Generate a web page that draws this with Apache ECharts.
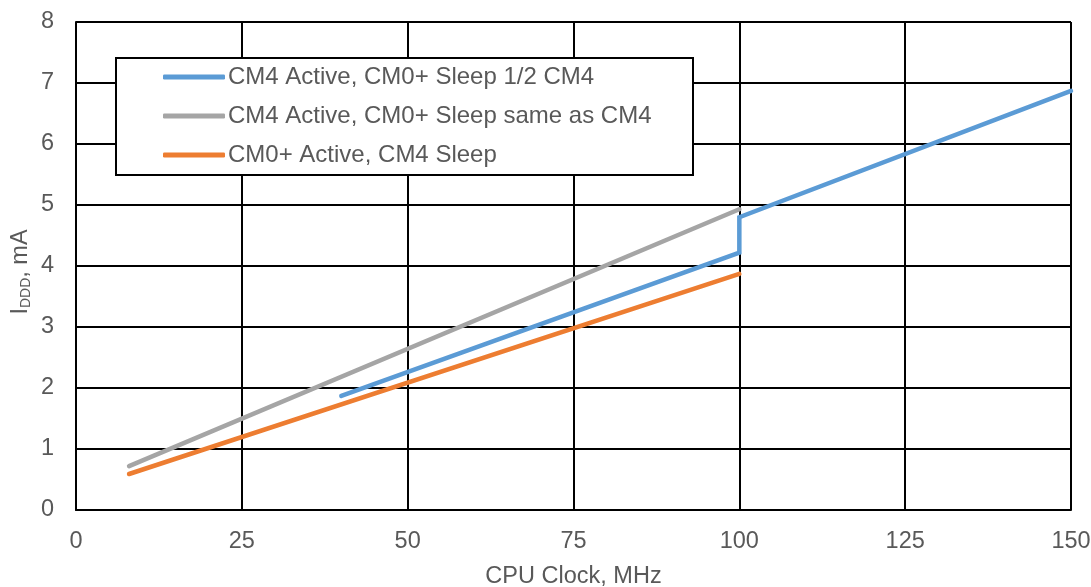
<!DOCTYPE html>
<html>
<head>
<meta charset="utf-8">
<script src="https://cdn.jsdelivr.net/npm/echarts@6/dist/echarts.min.js"></script>
<style>html,body{margin:0;padding:0;background:#fff}#c{width:1091px;height:587px}</style>
</head>
<body>
<div id="c"></div>
<script>
const xTicks = [0, 25, 50, 75, 100, 125, 150];
const yTicks = [0, 1, 2, 3, 4, 5, 6, 7, 8];
const seriesNames = ['CM4 Active, CM0+ Sleep 1/2 CM4', 'CM4 Active, CM0+ Sleep same as CM4', 'CM0+ Active, CM4 Sleep'];
const blueX = [40, 100, 100, 150];
const blueY = [1.87, 4.22, 4.80, 6.87];
const grayX = [8, 100];
const grayY = [0.72, 4.93];
const orangeX = [8, 100];
const orangeY = [0.59, 3.87];
const colors = ['#5B9BD5', '#A5A5A5', '#ED7D31'];

const pairs = (xs, ys) => xs.map((x, i) => [x, ys[i]]);
const font = 'Liberation Sans, Arial, sans-serif';
const fs = 23.5;
const chart = echarts.init(document.getElementById('c'));
const mk = (name, data, color) => ({
  name, type: 'line', data, symbol: 'none', color,
  lineStyle: { width: 4.5, color, cap: 'round', join: 'miter' },
  itemStyle: { color }, z: 5
});
chart.setOption({
  animation: false,
  grid: { left: 76, right: 20, top: 22, bottom: 77, containLabel: false, outerBoundsMode: 'none' },
  xAxis: {
    type: 'value', min: 0, max: 150, interval: 25,
    name: 'CPU Clock, MHz', nameLocation: 'middle', nameGap: 55,
    nameTextStyle: { color: '#595959', fontSize: fs, fontFamily: font },
    axisLine: { lineStyle: { color: '#000', width: 2 } },
    axisTick: { show: false },
    axisLabel: { color: '#595959', fontSize: fs, fontFamily: font, margin: 20 },
    splitLine: { show: true, lineStyle: { color: '#000', width: 2 } }
  },
  yAxis: {
    type: 'value', min: 0, max: 8, interval: 1,
    name: '{m|I}{s|DDD}{m|, mA}', nameLocation: 'middle', nameGap: 43, nameMoveOverlap: false,
    nameTextStyle: { color: '#595959', fontSize: fs, fontFamily: font, padding: [0, 12, 0, 0],
      rich: { m: { fontSize: fs, color: '#595959', fontFamily: font },
              s: { fontSize: 14, color: '#595959', fontFamily: font, verticalAlign: 'bottom', padding: [10, 0, 0, 0] } } },
    axisLine: { show: true, lineStyle: { color: '#000', width: 2 } },
    axisTick: { show: false },
    axisLabel: { color: '#595959', fontSize: fs, fontFamily: font, margin: 22 },
    splitLine: { show: true, lineStyle: { color: '#000', width: 2 } }
  },
  graphic: [{
    type: 'rect', left: 115, top: 57, z: 50,
    shape: { width: 577, height: 117 },
    style: { fill: '#fff', stroke: '#000', lineWidth: 2 }
  }],
  legend: {
    orient: 'vertical', left: 163, top: 63, padding: 0, z: 60,
    itemWidth: 62, itemHeight: 5, itemGap: 11, icon: 'roundRect',
    textStyle: { color: '#595959', fontSize: 24, fontFamily: font, lineHeight: 28, padding: [0, 0, 0, -2] },
    data: seriesNames
  },
  series: [
    mk(seriesNames[0], pairs(blueX, blueY), colors[0]),
    mk(seriesNames[1], pairs(grayX, grayY), colors[1]),
    mk(seriesNames[2], pairs(orangeX, orangeY), colors[2])
  ]
});
</script>
</body>
</html>
